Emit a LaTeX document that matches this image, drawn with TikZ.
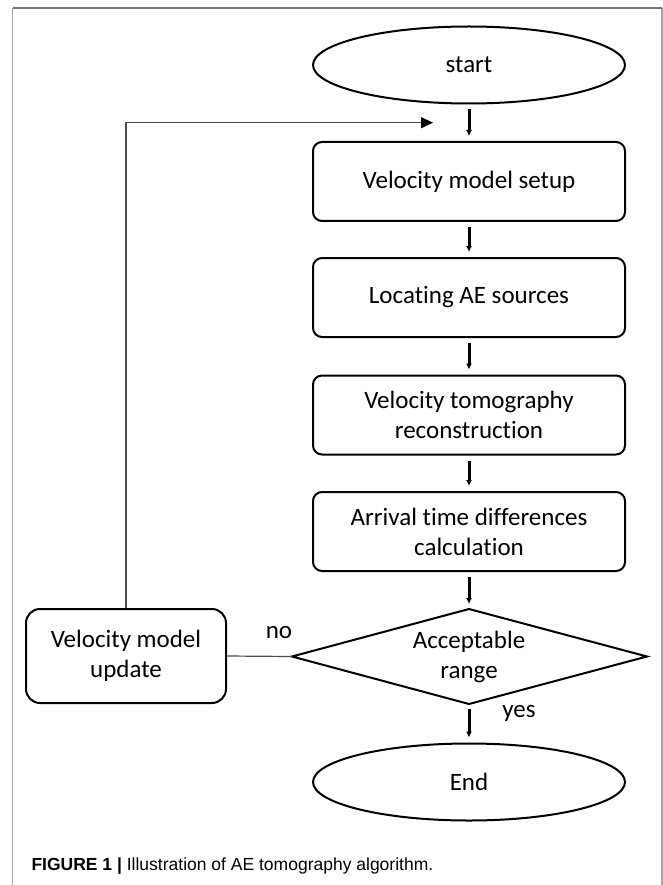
\documentclass[tikz,border=0pt]{standalone}
\usepackage{fontspec}
\setmainfont{Carlito}[Ligatures=NoCommon]
\newfontfamily\capfont{Liberation Sans}
\usetikzlibrary{shapes.geometric,arrows.meta}
\begin{document}
\begin{tikzpicture}[x=1pt,y=-1pt,
  every node/.style={font=\fontsize{25}{30}\selectfont, text=black},
  procbox/.style={draw, line width=2pt, rounded corners=9pt, minimum width=312pt, minimum height=79pt, inner sep=0pt, align=center},
  updbox/.style={draw, line width=2pt, rounded corners=14pt, minimum width=200pt, minimum height=94pt, inner sep=0pt, align=center},
  term/.style={draw, line width=2pt, ellipse, minimum width=312pt, minimum height=77pt, inner sep=0pt},
  decision/.style={draw, line width=2pt, line join=miter},
  flow/.style={line width=3pt, -{Latex[length=6pt,width=6pt]}, shorten <=5pt, shorten >=5pt},
  thinline/.style={draw=black!70, line width=1.2pt},
  framegray/.style={draw=black!35, line width=1.5pt}]
\useasboundingbox (0,0) rectangle (663,885);
% frame
\draw[framegray] (12.5,885) -- (12.5,8);
\draw[framegray] (662,8) -- (662,885);
\draw[framegray, draw=black!55] (12.5,8) -- (662,8);
% nodes
\node[term] (start) at (469,65) {start};
\node[procbox] (b1) at (469,181.5) {Velocity model setup};
\node[procbox] (b2) at (469,297.5) {Locating AE sources};
\node[procbox] (b3) at (469,415) {Velocity tomography\\reconstruction};
\node[procbox] (b4) at (469,531.5) {Arrival time differences\\calculation};
\node[align=center, inner sep=0pt] (dec) at (469,657) {Acceptable\\range};
\coordinate (dt) at (469,609);
\coordinate (db) at (469,704);
\coordinate (dl) at (292,656.5);
\coordinate (dr) at (647,656.5);
\draw[decision] (dl) -- (dt) -- (dr) -- (db) -- cycle;
\node[updbox] (upd) at (126,656) {Velocity model\\update};
\node[term] (end) at (469,782) {End};
\coordinate (fbend) at (433,122.7);
% labels
\node (no) at (279,633) {no};
\node (yes) at (519,713) {yes};
% connectors
\draw[flow] (start) -- (b1);
\draw[flow] (b1) -- (b2);
\draw[flow] (b2) -- (b3);
\draw[flow] (b3) -- (b4);
\draw[flow] (b4) -- (dt);
\draw[flow] (db) -- (end);
\draw[thinline] (upd.east) -- (dl);
\draw[thinline, -{Triangle[length=12pt,width=11pt,color=black]}] (upd.north) |- (fbend);
% caption
\node[anchor=west, font=\capfont\fontsize{17.5}{21}\selectfont] (cap) at (28,866) {\textbf{FIGURE 1 |} Illustration of AE tomography algorithm.};
\end{tikzpicture}
\end{document}
